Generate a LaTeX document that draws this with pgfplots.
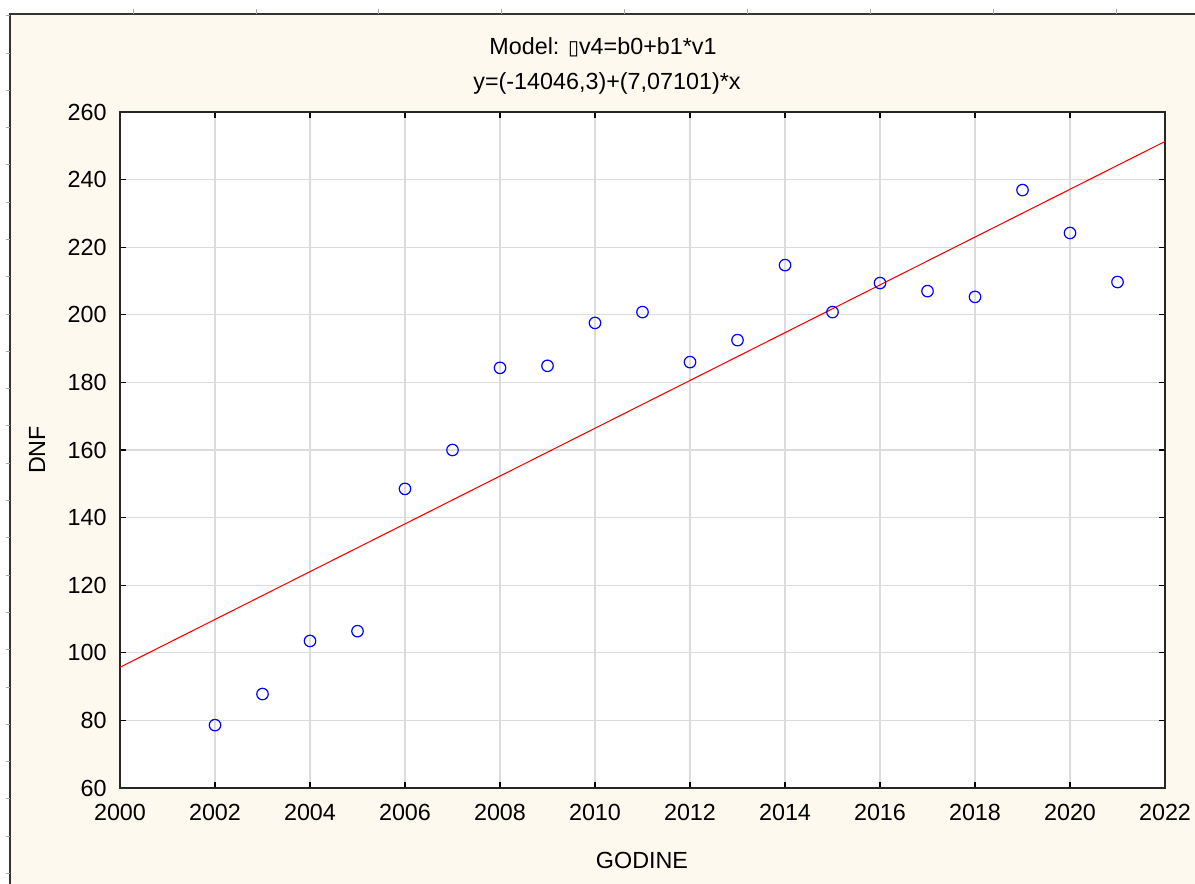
\documentclass[border=0pt]{standalone}
\usepackage{fontspec}
\setmainfont{Liberation Sans}
\newfontfamily\dejavu{DejaVu Sans}
\usepackage{pgfplots}
\pgfplotsset{compat=1.18}
\definecolor{cream}{RGB}{254,249,238}
\definecolor{gridgray}{RGB}{220,220,220}
\begin{document}
\fontsize{17.5}{21}\selectfont
\begin{tikzpicture}
\path[use as bounding box] (-90pt,-72pt) rectangle (806.25pt,591pt);
\begin{scope}[shift={(-90pt,591pt)}, x=0.75pt, y=-0.75pt]
  \fill[white] (0,0) rectangle (1195,884);
  \fill[cream] (10,14) rectangle (1200,890);
  \draw[line width=1.5pt, black!80] (10,890) -- (10,14) -- (1200,14);
  \foreach \k in {-1,0,...,22} {\draw[gray!70, line width=0.6pt] (6,53+37.29*\k) -- (10,53+37.29*\k);}
  \foreach \k in {0,...,8} {\draw[gray!70, line width=0.6pt] (133+122.9*\k,9) -- (133+122.9*\k,14);}
  \node[font=\fontsize{17.5}{21}\selectfont] at (603,47) {Model: {\dejavu\fontsize{15}{18}\selectfont ▯}v4=b0+b1*v1};
  \node[font=\fontsize{17.5}{21}\selectfont] at (607,83) {y=(-14046,3)+(7,07101)*x};
  \node[font=\fontsize{17.5}{21}\selectfont] at (642,860) {GODINE};
  \node[font=\fontsize{17.5}{21}\selectfont, rotate=90] at (37,450) {DNF};
\end{scope}
\begin{axis}[
  at={(0,0)}, anchor=south west,
  scale only axis, width=783.75pt, height=507pt,
  xmin=2000, xmax=2022, ymin=60, ymax=260,
  xtick={2000,2002,...,2022}, ytick={60,80,...,260},
  grid=major, major grid style={gridgray, line width=0.8pt},
  tick align=inside, xtick pos=both, ytick pos=both,
  major tick length=4.5pt,
  tick style={black, line width=0.9pt},
  axis line style={black!85, line width=1.1pt},
  axis background/.style={fill=white},
  ticklabel style={font=\fontsize{17.5}{21}\selectfont},
  /pgf/number format/assume math mode=true,
  /pgf/number format/1000 sep={},
  yticklabel style={xshift=-4pt},
  xticklabel style={yshift=-6pt},
  clip=true,
]
\addplot[red, line width=0.8pt] coordinates {(2000,95.72) (2022,251.28)};
\addplot[only marks, mark=o, mark size=4.3pt, blue, mark options={line width=0.9pt}] coordinates {
(2002,78.6) (2003,87.8) (2004,103.5) (2005,106.4) (2006,148.5) (2007,160.0)
(2008,184.3) (2009,184.9) (2010,197.6) (2011,200.8) (2012,186.0) (2013,192.5)
(2014,214.7) (2015,200.8) (2016,209.4) (2017,207.0) (2018,205.3) (2019,236.9)
(2020,224.2) (2021,209.7)};
\end{axis}
\end{tikzpicture}
\end{document}
